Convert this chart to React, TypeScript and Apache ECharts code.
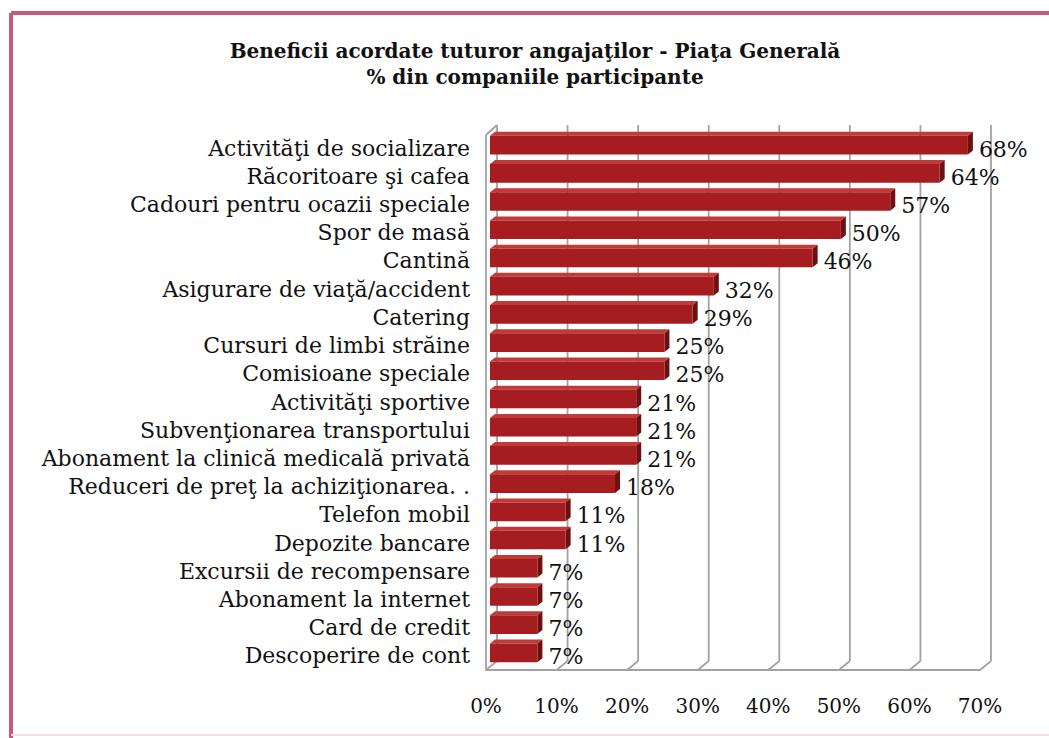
import React, { useEffect, useRef } from "react";
import * as echarts from "echarts";

const categories = [
  "Activităţi de socializare",
  "Răcoritoare şi cafea",
  "Cadouri pentru ocazii speciale",
  "Spor de masă",
  "Cantină",
  "Asigurare de viaţă/accident",
  "Catering",
  "Cursuri de limbi străine",
  "Comisioane speciale",
  "Activităţi sportive",
  "Subvenţionarea transportului",
  "Abonament la clinică medicală privată",
  "Reduceri de preţ la achiziţionarea. .",
  "Telefon mobil",
  "Depozite bancare",
  "Excursii de recompensare",
  "Abonament la internet",
  "Card de credit",
  "Descoperire de cont",
];
const values = [68, 64, 57, 50, 46, 32, 29, 25, 25, 21, 21, 21, 18, 11, 11, 7, 7, 7, 7];
const tickValues = [0, 10, 20, 30, 40, 50, 60, 70];
const titleLines = ["Beneficii acordate tuturor angajaţilor - Piaţa Generală", "% din companiile participante"];

const FONT = "DejaVu Serif";

export default function App() {
  const ref = useRef<HTMLDivElement>(null);
  useEffect(() => {
    const chart = echarts.init(ref.current!, null, { renderer: "svg" });
    const depthX = 5;
    const depthY = 4;
    const wallDX = 11;
    const wallDY = 9;
    const gridColor = "#a2a2a2";
    chart.setOption({
      animation: false,
      backgroundColor: "#ffffff",
      title: {
        text: titleLines.join("\n"),
        left: 530,
        textAlign: "center",
        top: 33,
        textStyle: { fontFamily: FONT, fontSize: 20, fontWeight: "bold", color: "#111", lineHeight: 26 },
      },
      graphic: [
        { type: "line", shape: { x1: 11, y1: 13, x2: 1049, y2: 13 }, style: { stroke: "#c45c7a", lineWidth: 4 } },
        { type: "line", shape: { x1: 11, y1: 13, x2: 11, y2: 738 }, style: { stroke: "#c45c7a", lineWidth: 4 } },
        { type: "line", shape: { x1: 11, y1: 735, x2: 1049, y2: 735 }, style: { stroke: "#f6dce4", lineWidth: 2 } },
      ],
      grid: { left: 486, right: 69, top: 134, bottom: 68, containLabel: false },
      xAxis: {
        type: "value",
        min: 0,
        max: 70,
        interval: 10,
        axisLabel: {
          formatter: "{value}%",
          fontFamily: FONT,
          fontSize: 20,
          color: "#111",
          margin: 26,
        },
        axisLine: { show: true, lineStyle: { color: gridColor, width: 2 } },
        axisTick: { show: false },
        splitLine: { show: false },
      },
      yAxis: {
        type: "category",
        data: categories,
        inverse: true,
        axisLabel: { interval: 0, fontFamily: FONT, fontSize: 22, color: "#111", margin: 16 },
        axisLine: { show: false },
        axisTick: { show: false },
      },
      series: [
        {
          type: "custom",
          z: 1,
          silent: true,
          data: tickValues.map((v) => [v, 0]),
          encode: { x: 0, y: 1 },
          renderItem: (params: any, api: any) => {
            const v = api.value(0);
            const cs = params.coordSys;
            const top = cs.y;
            const bottom = cs.y + cs.height;
            const x = api.coord([v, 0])[0];
            const ls = { stroke: gridColor, lineWidth: 1.8, fill: "none" };
            const children: any[] = [
              { type: "line", shape: { x1: x + wallDX, y1: top - 9, x2: x + wallDX, y2: bottom - wallDY }, style: ls },
              { type: "line", shape: { x1: x + wallDX, y1: bottom - wallDY, x2: x, y2: bottom }, style: ls },
            ];
            if (v === 0) {
              children.push(
                { type: "line", shape: { x1: x, y1: top + 1, x2: x, y2: bottom }, style: ls },
                { type: "line", shape: { x1: x, y1: top + 1, x2: x + wallDX, y2: top - 9 }, style: ls }
              );
            }
            return { type: "group", children };
          },
        },
        {
          type: "custom",
          z: 5,
          data: values.map((v, i) => [v, i]),
          encode: { x: 0, y: 1 },
          renderItem: (params: any, api: any) => {
            const v = api.value(0);
            const idx = api.value(1);
            const start = api.coord([0, idx]);
            const end = api.coord([v, idx]);
            const band = api.size([0, 1])[1];
            const h = band * 0.66;
            const cy = end[1] - 3;
            const x0 = start[0] + 4;
            const x1 = end[0] + 2;
            const yT = cy - h / 2;
            const yB = cy + h / 2;
            return {
              type: "group",
              children: [
                {
                  type: "polygon",
                  shape: { points: [[x0, yT], [x0 + depthX, yT - depthY], [x1 + depthX, yT - depthY], [x1, yT]] },
                  style: { fill: "#c23a38" },
                },
                {
                  type: "polygon",
                  shape: { points: [[x1, yT], [x1 + depthX, yT - depthY], [x1 + depthX, yB - depthY], [x1, yB]] },
                  style: { fill: "#6e0f10" },
                },
                {
                  type: "rect",
                  shape: { x: x0, y: yT, width: x1 - x0, height: yB - yT },
                  style: { fill: "#a51d20" },
                },
                {
                  type: "text",
                  style: {
                    x: x1 + depthX + 6,
                    y: cy + 4,
                    text: v + "%",
                    fontFamily: FONT,
                    fontSize: 22,
                    fill: "#111",
                    verticalAlign: "middle",
                    align: "left",
                  },
                },
              ],
            };
          },
        },
      ],
    });
    return () => chart.dispose();
  }, []);
  return <div ref={ref} style={{ position: "absolute", left: 0, top: 0, width: 1049, height: 738 }} />;
}
